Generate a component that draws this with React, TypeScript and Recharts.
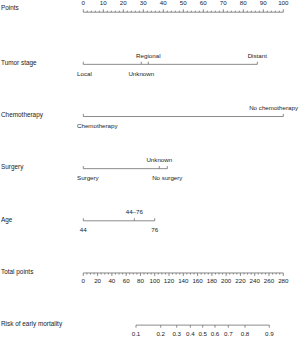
import React from 'react';
import { ComposedChart, Line, XAxis, YAxis } from 'recharts';

// ---- data ----
const rowNames = ['Points', 'Tumor stage', 'Chemotherapy', 'Surgery', 'Age', 'Total points', 'Risk of early mortality'];

const pointTicks = [0, 2, 4, 6, 8, 10, 12, 14, 16, 18, 20, 22, 24, 26, 28, 30, 32, 34, 36, 38, 40, 42, 44, 46, 48, 50, 52, 54, 56, 58, 60, 62, 64, 66, 68, 70, 72, 74, 76, 78, 80, 82, 84, 86, 88, 90, 92, 94, 96, 98, 100];
const pointLabels = [0, 10, 20, 30, 40, 50, 60, 70, 80, 90, 100];

const tumorLevels = ['Local', 'Unknown', 'Regional', 'Distant'];
const tumorPoints = [0, 29, 32.5, 87];

const chemoLevels = ['Chemotherapy', 'No chemotherapy'];
const chemoPoints = [0, 100];

const surgeryLevels = ['Surgery', 'Unknown', 'No surgery'];
const surgeryPoints = [0, 38, 42];

const ageLevels = ['44', '44\u201376', '76'];
const agePoints = [0, 25.5, 35.7];

const totalTicks = [0, 5, 10, 15, 20, 25, 30, 35, 40, 45, 50, 55, 60, 65, 70, 75, 80, 85, 90, 95, 100, 105, 110, 115, 120, 125, 130, 135, 140, 145, 150, 155, 160, 165, 170, 175, 180, 185, 190, 195, 200, 205, 210, 215, 220, 225, 230, 235, 240, 245, 250, 255, 260, 265, 270, 275, 280];
const totalLabels = [0, 20, 40, 60, 80, 100, 120, 140, 160, 180, 200, 220, 240, 260, 280];

const riskLabels = [0.1, 0.2, 0.3, 0.4, 0.5, 0.6, 0.7, 0.8, 0.9];
const riskTotals = [73.8, 108.4, 130.8, 149.8, 167.2, 184.4, 203, 226.4, 260.4];

// ---- layout / style ----
const W = 300;
const H = 337;
const FONT = '"Liberation Sans", Arial, Helvetica, sans-serif';
const LINE = '#5a5a5a';
const TEXT = '#1a1a1a';
const FS_ROW = 6.4;
const FS_TICK = 6.2;
const LEFT_LIMIT = 77;
const RIGHT_LIMIT = 298;

// which level labels sit above the line (others below)
const aboveTumor = ['Regional', 'Distant'];
const aboveChemo = ['No chemotherapy'];
const aboveSurgery = ['Unknown'];
const aboveAge = ['44\u201376'];

const build = (xs: number[], row: number, labels: (string | null)[]) =>
  xs.map((x, i) => ({ x, row, label: labels[i] }));

const pointsData = build(pointTicks, 0, pointTicks.map((v) => (pointLabels.includes(v) ? String(v) : null)));
const tumorData = build(tumorPoints, 1, tumorLevels);
const chemoData = build(chemoPoints, 2, chemoLevels);
const surgeryData = build(surgeryPoints, 3, surgeryLevels);
const ageData = build(agePoints, 4, ageLevels);
const totalData = build(totalTicks, 5, totalTicks.map((v) => (totalLabels.includes(v) ? String(v) : null)));
const riskData = build(riskTotals, 6, riskLabels.map((v) => String(v)));

const txt = (x: number, y: number, s: string, anchor: string, fs = FS_TICK) => (
  <text x={x} y={y} textAnchor={anchor as any} fontSize={fs} fontFamily={FONT} fill={TEXT}>
    {s}
  </text>
);

const clampedLabel = (cx: number, y: number, s: string) => {
  const w = s.length * FS_TICK * 0.52;
  if (cx - w / 2 < LEFT_LIMIT) return txt(LEFT_LIMIT, y, s, 'start');
  if (cx + w / 2 > RIGHT_LIMIT) return txt(RIGHT_LIMIT, y, s, 'end');
  return txt(cx, y, s, 'middle');
};

const pointsDot = (p: any) => {
  const { cx, cy, payload, index } = p;
  const major = payload.label != null;
  return (
    <g key={`pd-${index}`}>
      <line x1={cx} y1={cy} x2={cx} y2={cy - (major ? 3 : 1.6)} stroke={LINE} strokeWidth={0.7} />
      {major ? txt(cx, cy - 7.6, payload.label, 'middle') : null}
    </g>
  );
};

const totalDot = (p: any) => {
  const { cx, cy, payload, index } = p;
  const major = payload.label != null;
  return (
    <g key={`td-${index}`}>
      <line x1={cx} y1={cy} x2={cx} y2={cy + (major ? 3 : 1.6)} stroke={LINE} strokeWidth={0.7} />
      {major ? txt(cx, cy + 10.4, payload.label, 'middle') : null}
    </g>
  );
};

const riskDot = (p: any) => {
  const { cx, cy, payload, index } = p;
  return (
    <g key={`rd-${index}`}>
      <line x1={cx} y1={cy} x2={cx} y2={cy + 2.6} stroke={LINE} strokeWidth={0.7} />
      {txt(cx, cy + 10.9, payload.label, 'middle')}
    </g>
  );
};

const varDot = (above: string[], id: string) => (p: any) => {
  const { cx, cy, payload, index } = p;
  const up = above.includes(payload.label);
  return (
    <g key={`${id}-${index}`}>
      <line x1={cx} y1={cy} x2={cx} y2={cy - 2.6} stroke={LINE} strokeWidth={0.7} />
      {clampedLabel(cx, up ? cy - 6.4 : cy + 11.2, payload.label)}
    </g>
  );
};

const RowLabel = (p: any) => {
  const { y, payload } = p;
  const i = payload.value as number;
  const dy = i === 0 ? -2.6 : 0.8;
  return txt(1, y + dy, rowNames[i], 'start', FS_ROW);
};

export default function App() {
  return (
    <div style={{ position: 'absolute', left: 0, top: 0, width: W, height: H, background: '#fff' }}>
      <ComposedChart width={W} height={H} margin={{ top: 0, right: 16.7, bottom: 0, left: 0 }} style={{ overflow: 'visible' }}>
        <XAxis xAxisId="pts" type="number" dataKey="x" domain={[0, 100]} hide />
        <XAxis xAxisId="tot" type="number" dataKey="x" domain={[0, 280]} hide />
        <YAxis
          type="number"
          dataKey="row"
          domain={[-0.234, 6.228]}
          reversed
          width={83.3}
          ticks={[0, 1, 2, 3, 4, 5, 6]}
          interval={0}
          axisLine={false}
          tickLine={false}
          tick={RowLabel}
        />
        <Line xAxisId="pts" data={pointsData} dataKey="row" stroke={LINE} strokeWidth={0.7} dot={pointsDot} activeDot={false} isAnimationActive={false} />
        <Line xAxisId="pts" data={tumorData} dataKey="row" stroke={LINE} strokeWidth={0.7} dot={varDot(aboveTumor, 'tu')} activeDot={false} isAnimationActive={false} />
        <Line xAxisId="pts" data={chemoData} dataKey="row" stroke={LINE} strokeWidth={0.7} dot={varDot(aboveChemo, 'ch')} activeDot={false} isAnimationActive={false} />
        <Line xAxisId="pts" data={surgeryData} dataKey="row" stroke={LINE} strokeWidth={0.7} dot={varDot(aboveSurgery, 'su')} activeDot={false} isAnimationActive={false} />
        <Line xAxisId="pts" data={ageData} dataKey="row" stroke={LINE} strokeWidth={0.7} dot={varDot(aboveAge, 'ag')} activeDot={false} isAnimationActive={false} />
        <Line xAxisId="tot" data={totalData} dataKey="row" stroke={LINE} strokeWidth={0.7} dot={totalDot} activeDot={false} isAnimationActive={false} />
        <Line xAxisId="tot" data={riskData} dataKey="row" stroke={LINE} strokeWidth={0.7} dot={riskDot} activeDot={false} isAnimationActive={false} />
      </ComposedChart>
    </div>
  );
}
